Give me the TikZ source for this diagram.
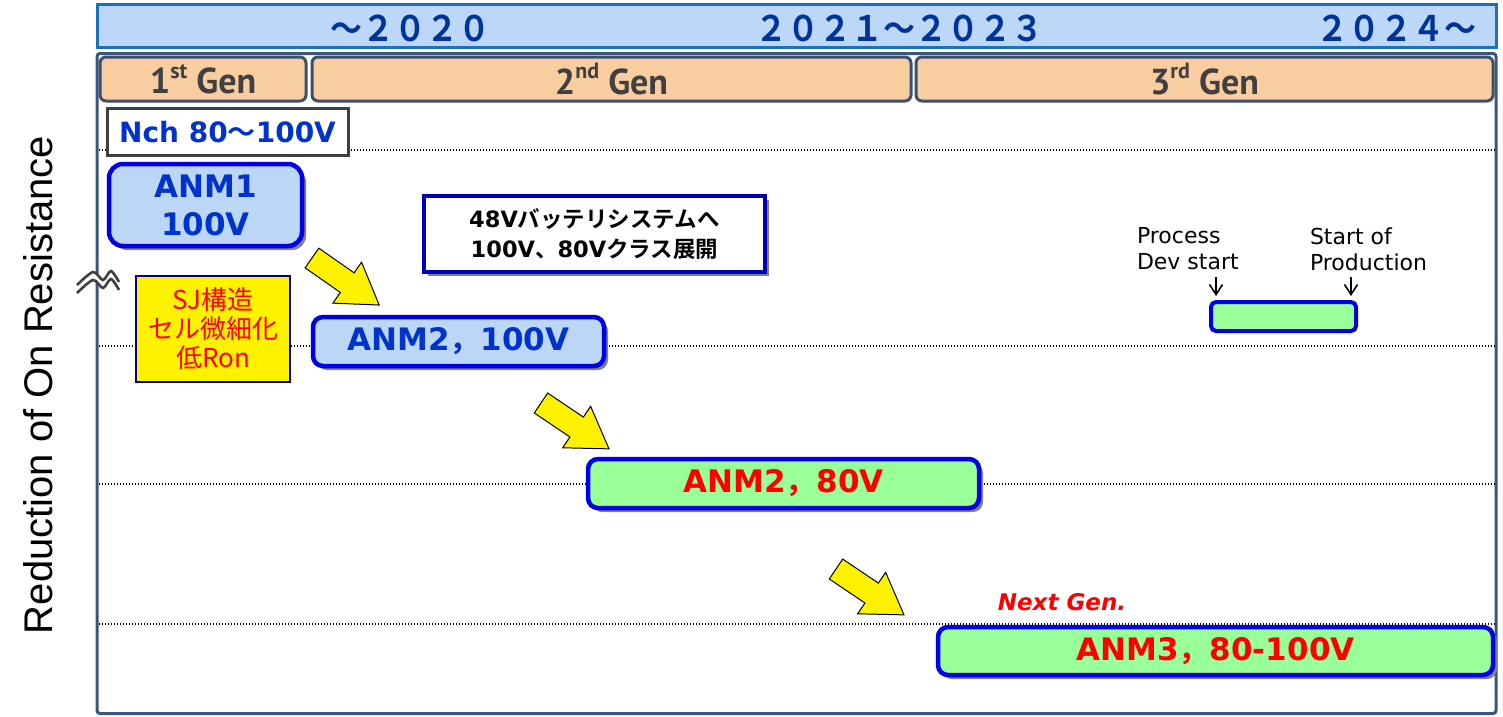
\documentclass[tikz,border=0pt]{standalone}
\usepackage{fontspec}
\setmainfont{DejaVu Sans}
\newfontfamily\jp{Noto Sans CJK JP}[BoldFont=Noto Sans CJK JP Bold]
\newfontfamily\arialf{Liberation Sans}
\newfontfamily\ptsans{PT Sans}
\usetikzlibrary{shadows,arrows.meta}
\definecolor{barfill}{RGB}{189,215,248}
\definecolor{barline}{RGB}{30,112,188}
\definecolor{yearblue}{RGB}{0,51,153}
\definecolor{framec}{RGB}{59,86,125}
\definecolor{genfill}{RGB}{248,205,160}
\definecolor{genline}{RGB}{59,80,110}
\definecolor{gentext}{RGB}{64,64,64}
\definecolor{anmblue}{RGB}{0,51,204}
\definecolor{lblue}{RGB}{188,214,246}
\definecolor{boxblue}{RGB}{0,0,230}
\definecolor{lgreen}{RGB}{153,255,153}
\definecolor{navyc}{RGB}{0,0,128}
\definecolor{wavec}{RGB}{64,64,64}
\newcommand\fsz[2]{\fontsize{#1}{#2}\selectfont}
\newcommand\fwc[1]{{\jp\bfseries #1}}
\begin{document}
\begin{tikzpicture}[x=1pt,y=-1pt,
  every node/.style={inner sep=0pt, outer sep=0pt},
  genbar/.style={draw=genline, line width=3pt, fill=genfill, rounded corners=6pt, text=gentext, font=\ptsans\bfseries\fsz{36}{36}},
  shad/.style={drop shadow={shadow xshift=4pt, shadow yshift=-4pt, fill=black!50, opacity=1}},
  anm/.style={draw=boxblue, line width=4.5pt, rounded corners=10pt, font=\bfseries\fsz{31}{37}, shad},
  anmb/.style={anm, fill=lblue, text=anmblue},
  anmg/.style={anm, fill=lgreen, text=red},
  dotline/.style={line width=1.4pt, dash pattern=on 1.4pt off 1.6pt},
  yarr/.style={fill=yellow, draw=black, line width=1pt, line join=miter},
  legtext/.style={font=\fsz{22}{26}, align=left, text=black},
  year/.style={text=yearblue, font=\jp\bfseries\fsz{32}{32}},
  wave/.style={draw=wavec, line width=2.6pt},
  legarrow/.style={line width=1.6pt, -{Straight Barb[length=10pt,width=13pt]}}
]
\useasboundingbox (0,0) rectangle (1503,716);
% top bar with years
\node[draw=barline, line width=3pt, fill=barfill, minimum width=1399, minimum height=43] (topbar) at (796.5,26) {};
\node[year] (y1) at (410,28) {\scalebox{1}[1.1]{～２０２０}};
\node[year] (y2) at (899,28) {\scalebox{1}[1.1]{２０２１～２０２３}};
\node[year] (y3) at (1396,28) {\scalebox{1}[1.1]{２０２４～}};
% main frame
\node[draw=framec, line width=3pt, rounded corners=3pt, minimum width=1399, minimum height=660] (frame) at (796.5,383.5) {};
% generation bars
\node[genbar, minimum width=206, minimum height=44] (g1) at (203,79) {1\raisebox{.42em}{\fsz{22}{22}st} Gen};
\node[genbar, minimum width=599, minimum height=44] (g2) at (611.5,79) {2\raisebox{.42em}{\fsz{22}{22}nd} Gen};
\node[genbar, minimum width=577, minimum height=44] (g3) at (1204.5,79) {3\raisebox{.42em}{\fsz{22}{22}rd} Gen};
% dotted level lines
\coordinate (d1a) at (99,150); \coordinate (d1b) at (1495,150);
\coordinate (d2a) at (99,346); \coordinate (d2b) at (1495,346);
\coordinate (d3a) at (99,484); \coordinate (d3b) at (1495,484);
\coordinate (d4a) at (99,624); \coordinate (d4b) at (1495,624);
\draw[dotline] (d1a) -- (d1b);
\draw[dotline] (d2a) -- (d2b);
\draw[dotline] (d3a) -- (d3b);
\draw[dotline] (d4a) -- (d4b);
% Nch box
\node[draw=gentext, line width=3pt, fill=white, minimum width=241, minimum height=47, text=anmblue, font=\bfseries\fsz{28}{28}] (nch) at (227.5,132) {Nch 80\fwc{～}100V};
% ANM boxes
\node[anmb, rounded corners=14pt, minimum width=193, minimum height=82, align=center, font=\bfseries\fsz{31}{38}] (anm1) at (205.5,205) {ANM1\\100V};
\node[anmb, minimum width=291, minimum height=49] (anm2a) at (458.5,341.5) {ANM2\fwc{，}100V};
\node[anmg, minimum width=391, minimum height=49] (anm2b) at (783.5,483.5) {ANM2\fwc{，}80V};
\node[anmg, minimum width=555, minimum height=48] (anm3) at (1215.5,651) {ANM3\fwc{，}80-100V};
% SJ box
\node[draw=navyc, line width=2pt, fill=yellow, minimum width=154, minimum height=106, align=center, text=red, font=\jp\fsz{26}{29}] (sj) at (213,329) {SJ構造\\セル微細化\\低Ron};
% 48V box
\node[draw=boxblue!80!black, line width=4.5pt, fill=white, shad, minimum width=341, minimum height=76, align=center, font=\bfseries\fsz{22.5}{30}] (v48) at (594.5,234) {48V\fwc{バッテリシステムへ}\\100V\fwc{、}80V\fwc{クラス展開}};
% yellow block arrows
\draw[yarr, shift={(312,258)}, rotate=-35] (0,12) -- (43,12) -- (43,25) -- (82,0) -- (43,-25) -- (43,-12) -- (0,-12) -- cycle;
\draw[yarr, shift={(541,403)}, rotate=-34] (0,12) -- (43,12) -- (43,25) -- (82,0) -- (43,-25) -- (43,-12) -- (0,-12) -- cycle;
\draw[yarr, shift={(836,569)}, rotate=-34] (0,12) -- (43,12) -- (43,25) -- (82,0) -- (43,-25) -- (43,-12) -- (0,-12) -- cycle;
% legend
\node[legtext, anchor=west] (leg1) at (1137,249) {Process\\Dev start};
\node[legtext, anchor=west] (leg2) at (1310,249) {Start of\\Production};
\node[draw=boxblue, line width=4pt, fill=lgreen, rounded corners=5pt, minimum width=145, minimum height=29] (legbar) at (1283.5,316.5) {};
\coordinate (la1) at (1216,277); \coordinate (lb1) at (1216,296);
\coordinate (la2) at (1351,277); \coordinate (lb2) at (1351,296);
\draw[legarrow] (la1) -- (lb1);
\draw[legarrow] (la2) -- (lb2);
% next gen
\node[text=red, font=\bfseries\itshape\fsz{23}{23}] (ng) at (1062,602) {Next Gen.};
% axis label
\node[rotate=90, font=\arialf\fsz{40}{40}] (ylab) at (38,385) {Reduction of On Resistance};
% break symbol
\fill[white] plot[smooth] coordinates {(77,285) (93,272) (103,280) (111,271) (119,282)} -- plot[smooth] coordinates {(119,290) (111,279) (103,288) (93,280) (77,293)} -- cycle;
\draw[wave] plot[smooth] coordinates {(77,285) (93,272) (103,280) (111,271) (119,282)};
\draw[wave] plot[smooth] coordinates {(77,293) (93,280) (103,288) (111,279) (119,290)};
\end{tikzpicture}
\end{document}
